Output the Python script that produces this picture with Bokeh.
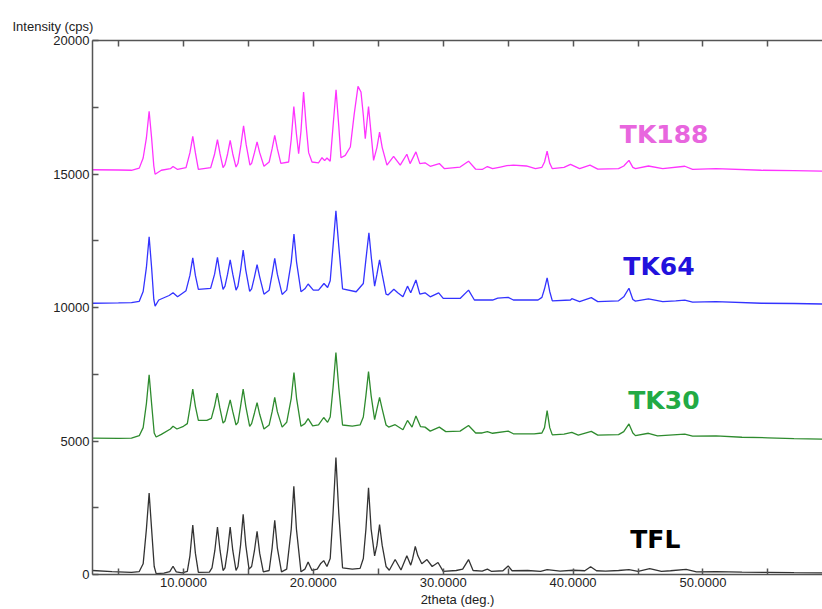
from bokeh.plotting import figure
from bokeh.models import Range1d, FixedTicker, PrintfTickFormatter, LinearAxis, Label
from bokeh.embed import file_html
from bokeh.resources import INLINE

# ---------------- data ----------------
tfl_2theta = [3.0, 4.5, 6.0, 6.6, 6.9, 7.15, 7.36, 7.55, 7.75, 7.9, 8.5, 8.95, 9.2, 9.45, 9.9,
              10.3, 10.5, 10.72, 10.92, 11.15, 12.0, 12.2, 12.42, 12.62, 12.82, 13.05, 13.2, 13.4,
              13.6, 13.8, 14.05, 14.2, 14.4, 14.6, 14.8, 15.05, 15.25, 15.47, 15.67, 15.87, 16.15,
              16.6, 16.83, 17.03, 17.23, 17.55, 17.95, 18.3, 18.5, 18.7, 19.05, 19.35, 19.6, 19.9,
              20.3, 20.55, 20.8, 21.05, 21.3, 21.52, 21.74, 21.96, 22.25, 23.0, 23.6, 23.85, 24.05,
              24.25, 24.45, 24.72, 24.9, 25.1, 25.3, 25.6, 25.85, 26.3, 26.75, 27.2, 27.5, 27.65,
              27.85, 28.05, 28.35, 28.75, 29.15, 29.6, 30.0, 31.0, 31.5, 31.95, 32.3, 33.0, 33.4,
              33.7, 34.6, 35.0, 35.3, 36.5, 37.5, 38.0, 39.0, 40.0, 40.9, 41.35, 41.8, 42.5, 43.5,
              44.3, 45.0, 45.9, 46.8, 47.5, 48.7, 49.5, 51.0, 53.0, 55.0, 57.0, 59.2]
tfl_cps = [150, 110, 80, 110, 400, 1700, 3050, 1700, 300, 30, 50, 110, 310, 100, 60,
           120, 700, 1850, 800, 80, 90, 250, 900, 1780, 900, 150, 250, 900,
           1780, 900, 150, 300, 1100, 2250, 1100, 200, 300, 900, 1620, 800, 100,
           150, 1000, 2030, 1000, 100, 200, 1700, 3300, 1700, 100, 200, 470, 150,
           200, 400, 520, 300, 600, 2300, 4380, 2300, 250, 200, 230, 600, 1700,
           3250, 1700, 700, 1100, 1870, 1100, 300, 160, 560, 170, 700, 350, 600,
           1050, 700, 400, 560, 300, 450, 120, 150, 200, 560, 150, 130, 200,
           120, 140, 320, 140, 150, 120, 180, 130, 160, 140, 290, 140, 130, 150,
           180, 120, 220, 120, 140, 190, 100, 110, 90, 80, 70, 60]

tk30_2theta = [3.0, 5.0, 6.0, 6.6, 6.9, 7.15, 7.36, 7.55, 7.75, 7.9, 8.3, 9.0, 9.2, 9.5, 10.0,
               10.3, 10.52, 10.72, 10.92, 11.15, 11.8, 12.15, 12.4, 12.6, 12.8, 13.05, 13.2, 13.4,
               13.6, 13.8, 14.05, 14.2, 14.4, 14.6, 14.8, 15.1, 15.25, 15.47, 15.67, 15.87, 16.2,
               16.6, 16.83, 17.03, 17.23, 17.6, 17.95, 18.3, 18.51, 18.71, 19.05, 19.35, 19.6, 19.95,
               20.4, 20.8, 21.1, 21.3, 21.52, 21.74, 21.96, 22.25, 23.0, 23.6, 23.85, 24.05, 24.25,
               24.45, 24.72, 24.9, 25.1, 25.3, 25.6, 25.8, 26.3, 26.9, 27.25, 27.6, 27.9, 28.25,
               28.6, 29.0, 29.7, 30.2, 31.3, 31.95, 32.5, 33.0, 33.4, 33.8, 35.0, 35.4, 37.0, 37.6,
               37.8, 38.0, 38.2, 38.4, 39.3, 39.9, 40.4, 41.4, 41.9, 43.5, 43.9, 44.3, 44.6, 44.8,
               45.8, 46.5, 48.6, 49.2, 51.0, 53.0, 55.0, 57.0, 59.2]
tk30_cps = [5110, 5100, 5110, 5200, 5500, 6400, 7480, 6400, 5300, 5150, 5250, 5450, 5550, 5450, 5550,
            5650, 6300, 6940, 6300, 5770, 5770, 5850, 6300, 6790, 6250, 5670, 5750, 6150,
            6540, 6100, 5600, 5700, 6300, 6940, 6300, 5550, 5650, 6050, 6440, 6000, 5450,
            5600, 6100, 6630, 6100, 5520, 5700, 6600, 7560, 6600, 5550, 5650, 5840, 5570,
            5600, 5880, 5700, 5900, 7000, 8310, 7000, 5600, 5560, 5600, 5900, 6700, 7600,
            6700, 5800, 6200, 6630, 6200, 5600, 5520, 5610, 5420, 5770, 5520, 5940, 5540,
            5520, 5370, 5520, 5350, 5370, 5580, 5300, 5300, 5350, 5290, 5370, 5270, 5270, 5300,
            5500, 6140, 5500, 5230, 5260, 5320, 5220, 5360, 5220, 5240, 5350, 5640, 5300, 5200,
            5290, 5190, 5260, 5180, 5190, 5140, 5120, 5090, 5070]

tk64_2theta = [3.0, 5.0, 6.0, 6.6, 6.9, 7.15, 7.36, 7.55, 7.72, 7.82, 8.1, 8.9, 9.2, 9.55, 10.2,
               10.5, 10.72, 10.92, 11.15, 12.1, 12.4, 12.62, 12.82, 13.05, 13.2, 13.4, 13.6, 13.8,
               14.05, 14.2, 14.4, 14.6, 14.8, 15.1, 15.25, 15.47, 15.67, 15.87, 16.2, 16.6, 16.83,
               17.03, 17.23, 17.6, 17.95, 18.3, 18.51, 18.71, 19.05, 19.35, 19.6, 20.0, 20.4, 20.82,
               21.1, 21.3, 21.52, 21.74, 21.96, 22.25, 23.3, 23.85, 24.05, 24.28, 24.48, 24.72, 24.9,
               25.1, 25.3, 25.6, 25.75, 26.2, 26.5, 26.9, 27.25, 27.5, 27.9, 28.2, 28.6, 29.0,
               29.65, 30.0, 31.3, 31.95, 32.4, 33.8, 34.2, 35.0, 35.4, 37.3, 37.6, 37.8, 38.0, 38.2,
               38.4, 39.8, 39.9, 40.5, 41.4, 41.9, 43.5, 43.9, 44.3, 44.6, 44.8, 45.8, 46.9, 47.9,
               48.6, 49.2, 51.0, 54.5, 57.0, 59.2]
tk64_cps = [10160, 10170, 10180, 10230, 10600, 11500, 12650, 11500, 10300, 10050, 10280, 10450,
            10550, 10400, 10630, 11200, 11860, 11200, 10680, 10720, 11250, 11880, 11250, 10680,
            10800, 11250, 11780, 11250, 10650, 10800, 11400, 12150, 11400, 10600, 10700, 11150,
            11610, 11150, 10500, 10650, 11250, 11840, 11250, 10490, 10650, 11700, 12750, 11700,
            10590, 10700, 10880, 10650, 10650, 10900, 10750, 11000, 12300, 13620, 12300, 10700,
            10590, 10900, 11800, 12800, 11800, 10800, 11250, 11780, 11250, 10500, 10470, 10680,
            10550, 10400, 10800, 10550, 11030, 10500, 10550, 10400, 10550, 10340, 10340, 10650,
            10280, 10280, 10350, 10380, 10280, 10280, 10380, 10700, 11110, 10600, 10250, 10280,
            10330, 10220, 10370, 10220, 10250, 10400, 10720, 10300, 10240, 10320, 10220, 10250,
            10280, 10200, 10220, 10160, 10150, 10130]

tk188_2theta = [3.0, 5.0, 6.0, 6.6, 6.9, 7.15, 7.36, 7.55, 7.72, 7.82, 8.3, 9.0, 9.2, 9.55, 10.2,
                10.5, 10.72, 10.92, 11.15, 12.1, 12.4, 12.62, 12.82, 13.05, 13.2, 13.4, 13.6, 13.8,
                14.05, 14.2, 14.43, 14.63, 14.83, 15.12, 15.25, 15.47, 15.67, 15.87, 16.2, 16.6,
                16.83, 17.03, 17.23, 17.5, 18.1, 18.3, 18.5, 18.7, 18.87, 19.05, 19.25, 19.45, 19.64,
                19.9, 20.4, 20.67, 20.87, 21.05, 21.3, 21.52, 21.75, 21.96, 22.13, 22.46, 22.85,
                23.15, 23.44, 23.67, 23.85, 24.0, 24.25, 24.45, 24.64, 24.9, 25.1, 25.3, 25.67,
                26.18, 26.69, 27.2, 27.45, 27.9, 28.2, 28.6, 29.0, 29.7, 30.1, 31.3, 31.95, 32.5,
                33.0, 33.4, 33.8, 34.4, 34.9, 35.4, 36.4, 37.1, 37.6, 37.8, 38.0, 38.2, 38.4, 39.3,
                39.8, 40.5, 41.3, 41.9, 43.5, 43.9, 44.3, 44.6, 44.8, 45.8, 46.9, 48.6, 49.2, 51.0,
                54.5, 57.0, 59.2]
tk188_cps = [15160, 15150, 15140, 15220, 15600, 16350, 17350, 16350, 15300, 14990, 15140, 15200,
             15280, 15170, 15240, 15800, 16410, 15800, 15170, 15240, 15750, 16290, 15750, 15240,
             15350, 15750, 16260, 15750, 15260, 15400, 16100, 16800, 16100, 15330, 15400, 15800,
             16200, 15800, 15290, 15450, 15950, 16450, 15950, 15400, 15450, 16300, 17530, 16500,
             15760, 16600, 18070, 16800, 15800, 15450, 15420, 15610, 15500, 15600, 15480, 16800,
             18150, 16800, 15610, 15700, 16010, 17250, 18280, 18070, 17200, 16320, 17530, 16500,
             15510, 16000, 16570, 16000, 15330, 15660, 15330, 15740, 15390, 15830, 15390, 15420,
             15290, 15390, 15200, 15260, 15480, 15180, 15170, 15280, 15200, 15260, 15310, 15330,
             15300, 15200, 15250, 15450, 15860, 15400, 15200, 15250, 15360, 15200, 15330, 15180,
             15200, 15300, 15510, 15250, 15200, 15300, 15200, 15290, 15170, 15200, 15140, 15130,
             15110]

series_names = ["TK188", "TK64", "TK30", "TFL"]
x_ticks = [10, 20, 30, 40, 50]
x_minor_ticks = [5, 15, 25, 35, 45, 55]
x_all_ticks = [5, 10, 15, 20, 25, 30, 35, 40, 45, 50, 55]
y_ticks = [0, 5000, 10000, 15000, 20000]
y_minor_ticks = [2500, 7500, 12500, 17500]

# ---------------- figure ----------------
p = figure(width=822, height=609, output_backend="svg", toolbar_location=None,
           x_range=Range1d(3, 59.2), y_range=Range1d(0, 20000),
           min_border_left=92, min_border_right=0, min_border_top=40, min_border_bottom=34)
p.outline_line_color = None
p.grid.visible = False
p.background_fill_color = "white"
p.border_fill_color = "white"

axis_color = "#555555"
label_font = "Liberation Sans"
small_size = "13px"

p.title.text = "Intensity (cps)"
p.title.align = "left"
p.title.offset = -80
p.title.text_font = label_font
p.title.text_font_size = small_size
p.title.text_font_style = "normal"
p.title.text_color = "#222222"
p.title.standoff = 13

xa = p.xaxis[0]
xa.ticker = FixedTicker(ticks=x_ticks, minor_ticks=x_minor_ticks)
xa.formatter = PrintfTickFormatter(format="%.4f")
xa.axis_label = "2theta (deg.)"
xa.axis_label_text_font_style = "normal"
xa.axis_label_text_font = label_font
xa.axis_label_text_font_size = small_size
xa.axis_label_text_color = "#222222"
xa.axis_label_standoff = 2
xa.major_label_standoff = 3
xa.major_label_text_font = label_font
xa.major_label_text_font_size = small_size
xa.major_label_text_color = "#222222"
xa.axis_line_color = axis_color
xa.axis_line_width = 1.5
xa.major_tick_in = 6
xa.major_tick_out = 0
xa.minor_tick_in = 6
xa.minor_tick_out = 0
xa.major_tick_line_color = axis_color
xa.minor_tick_line_color = axis_color
xa.major_tick_line_width = 1.5
xa.minor_tick_line_width = 1.5

ya = p.yaxis[0]
ya.ticker = FixedTicker(ticks=y_ticks, minor_ticks=y_minor_ticks)
ya.formatter = PrintfTickFormatter(format="%d")
ya.major_label_standoff = 3
ya.major_label_text_font = label_font
ya.major_label_text_font_size = small_size
ya.major_label_text_color = "#222222"
ya.axis_line_color = axis_color
ya.axis_line_width = 1.5
ya.major_tick_in = 6
ya.major_tick_out = 0
ya.minor_tick_in = 6
ya.minor_tick_out = 0
ya.major_tick_line_color = axis_color
ya.minor_tick_line_color = axis_color
ya.major_tick_line_width = 1.5
ya.minor_tick_line_width = 1.5

# top frame line with inward ticks only (minor ticks carry no labels)
top = LinearAxis(ticker=FixedTicker(ticks=[], minor_ticks=x_all_ticks),
                 axis_line_color=axis_color, axis_line_width=1.5,
                 major_tick_in=0, major_tick_out=0, minor_tick_in=6, minor_tick_out=0,
                 minor_tick_line_color=axis_color, minor_tick_line_width=1.5)
p.add_layout(top, "above")

# ---------------- traces ----------------
p.line(tk188_2theta, tk188_cps, line_color="#FF33FF", line_width=1.3)
p.line(tk64_2theta, tk64_cps, line_color="#3333FF", line_width=1.3)
p.line(tk30_2theta, tk30_cps, line_color="#2E8B2E", line_width=1.3)
p.line(tfl_2theta, tfl_cps, line_color="#333333", line_width=1.3)

# ---------------- labels ----------------
label_specs = [
    ("TK188", 43.6, 16485, "#E866DE"),
    ("TK64", 43.87, 11550, "#2211DD"),
    ("TK30", 44.25, 6500, "#22AA44"),
    ("TFL", 44.4, 1310, "#000000"),
]
for name, lx, ly, col in label_specs:
    p.add_layout(Label(x=lx, y=ly, text=name, text_color=col, text_font="DejaVu Sans",
                       text_font_style="bold", text_font_size="25px",
                       text_baseline="middle", text_align="left"))

open("out.html", "w").write(file_html(p, INLINE))
